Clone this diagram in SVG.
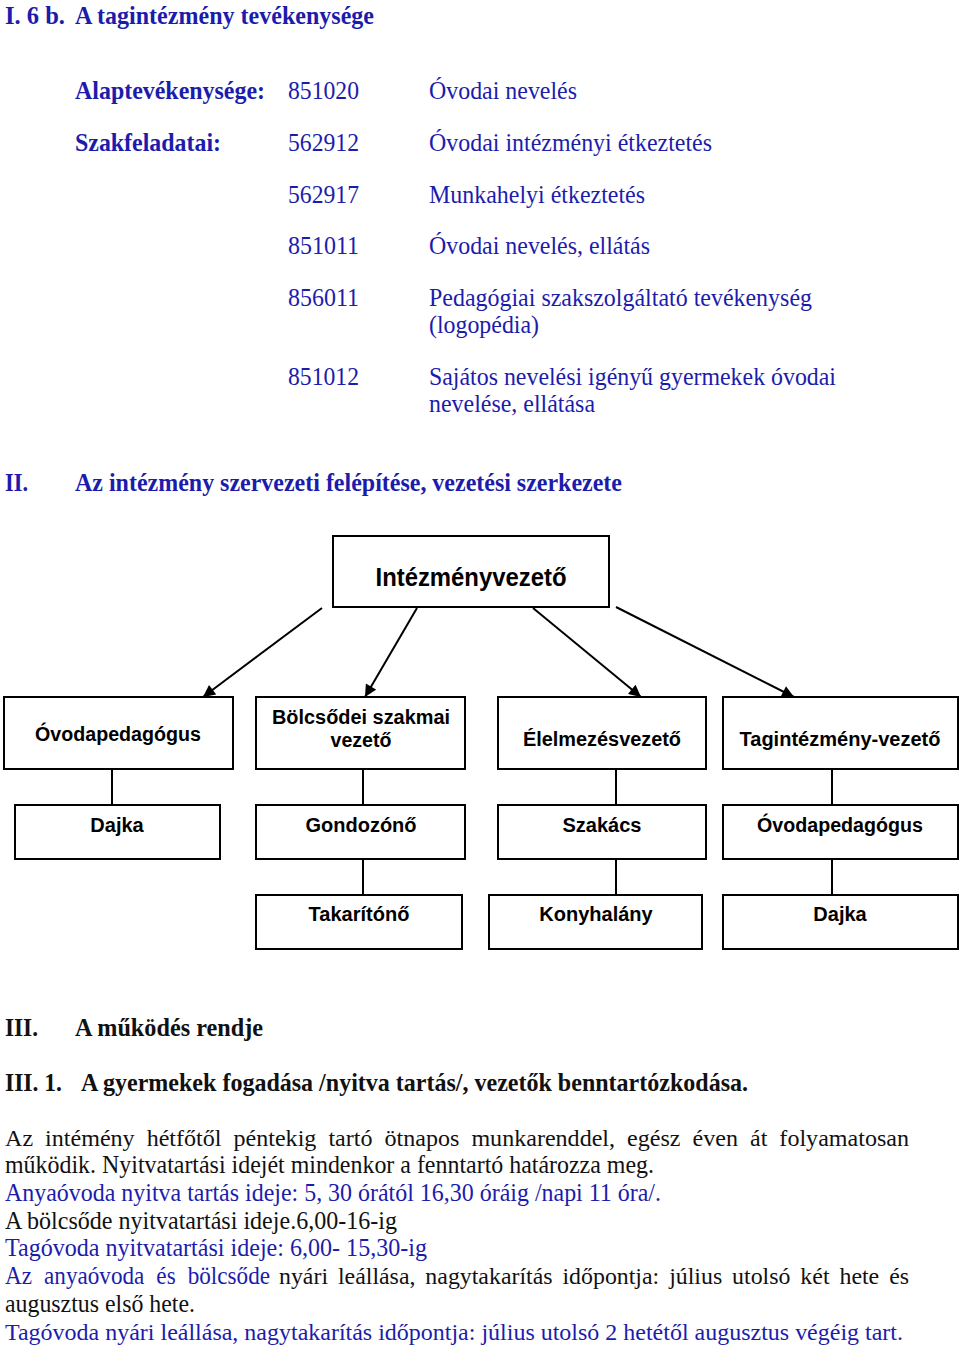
<svg xmlns="http://www.w3.org/2000/svg" width="960" height="1352" viewBox="0 0 960 1352">
<defs>
<style>
.s{font-family:"Liberation Serif","Times New Roman",serif;font-size:26px}
.sm{font-size:24px}
.b{font-weight:bold}
.blue{fill:#1c1cac}
.blk{fill:#111}
.box{fill:#fff;stroke:#000;stroke-width:2}
.n{font-family:"Liberation Sans",Arial,sans-serif;font-weight:bold;font-size:20px;fill:#000;text-anchor:middle}
.c{stroke:#000;stroke-width:2;fill:none}
</style>
<marker id="ah2" viewBox="0 0 10 10" refX="10" refY="5" markerWidth="14" markerHeight="12" markerUnits="userSpaceOnUse" orient="auto">
<path d="M0,0 L10,5 L0,10 z" fill="#000"/>
</marker>
</defs>
<rect width="960" height="1352" fill="#fff"/>

<!-- Section I -->
<g class="s b blue">
<text x="5" y="24" textLength="60" lengthAdjust="spacingAndGlyphs">I. 6 b.</text>
<text x="75" y="24" textLength="299" lengthAdjust="spacingAndGlyphs">A tagintézmény tevékenysége</text>
<text x="75" y="99" textLength="190" lengthAdjust="spacingAndGlyphs">Alaptevékenysége:</text>
<text x="75" y="151" textLength="146" lengthAdjust="spacingAndGlyphs">Szakfeladatai:</text>
</g>
<g class="s blue">
<text x="288" y="99" textLength="71" lengthAdjust="spacingAndGlyphs">851020</text>
<text x="288" y="151" textLength="71" lengthAdjust="spacingAndGlyphs">562912</text>
<text x="288" y="203" textLength="71" lengthAdjust="spacingAndGlyphs">562917</text>
<text x="288" y="254" textLength="71" lengthAdjust="spacingAndGlyphs">851011</text>
<text x="288" y="306" textLength="71" lengthAdjust="spacingAndGlyphs">856011</text>
<text x="288" y="385" textLength="71" lengthAdjust="spacingAndGlyphs">851012</text>
<text x="429" y="99" textLength="148" lengthAdjust="spacingAndGlyphs">Óvodai nevelés</text>
<text x="429" y="151" textLength="283" lengthAdjust="spacingAndGlyphs">Óvodai intézményi étkeztetés</text>
<text x="429" y="203" textLength="216" lengthAdjust="spacingAndGlyphs">Munkahelyi étkeztetés</text>
<text x="429" y="254" textLength="221" lengthAdjust="spacingAndGlyphs">Óvodai nevelés, ellátás</text>
<text x="429" y="306" textLength="383" lengthAdjust="spacingAndGlyphs">Pedagógiai szakszolgáltató tevékenység</text>
<text x="429" y="333" textLength="110" lengthAdjust="spacingAndGlyphs">(logopédia)</text>
<text x="429" y="385" textLength="407" lengthAdjust="spacingAndGlyphs">Sajátos nevelési igényű gyermekek óvodai</text>
<text x="429" y="412" textLength="166" lengthAdjust="spacingAndGlyphs">nevelése, ellátása</text>
</g>

<!-- Section II -->
<g class="s b blue">
<text x="5" y="491" textLength="23" lengthAdjust="spacingAndGlyphs">II.</text>
<text x="75" y="491" textLength="547" lengthAdjust="spacingAndGlyphs">Az intézmény szervezeti felépítése, vezetési szerkezete</text>
</g>

<!-- Connectors -->
<g id="connectors">
<line class="c" x1="322" y1="608" x2="203" y2="697" marker-end="url(#ah2)"/>
<line class="c" x1="417" y1="608" x2="365" y2="697" marker-end="url(#ah2)"/>
<line class="c" x1="533" y1="608" x2="641" y2="697" marker-end="url(#ah2)"/>
<line class="c" x1="616" y1="607" x2="794" y2="697" marker-end="url(#ah2)"/>
<line class="c" x1="112" y1="769" x2="112" y2="805"/>
<line class="c" x1="363" y1="769" x2="363" y2="805"/>
<line class="c" x1="616" y1="769" x2="616" y2="805"/>
<line class="c" x1="832" y1="769" x2="832" y2="805"/>
<line class="c" x1="363" y1="859" x2="363" y2="895"/>
<line class="c" x1="616" y1="859" x2="616" y2="895"/>
<line class="c" x1="832" y1="859" x2="832" y2="895"/>
</g>

<!-- Nodes -->
<g id="n-intezmenyvezeto"><rect class="box" x="333" y="536" width="276" height="71"/><text class="n" x="471" y="586" style="font-size:25px" textLength="191" lengthAdjust="spacingAndGlyphs">Intézményvezető</text></g>
<g id="n-ovodapedagogus1"><rect class="box" x="4" y="697" width="229" height="72"/><text class="n" x="118" y="741" textLength="166" lengthAdjust="spacingAndGlyphs">Óvodapedagógus</text></g>
<g id="n-bolcsodei"><rect class="box" x="256" y="697" width="209" height="72"/><text class="n" x="361" y="724" textLength="178" lengthAdjust="spacingAndGlyphs">Bölcsődei szakmai</text><text class="n" x="361" y="747" textLength="61" lengthAdjust="spacingAndGlyphs">vezető</text></g>
<g id="n-elelmezes"><rect class="box" x="498" y="697" width="208" height="72"/><text class="n" x="602" y="746" textLength="158" lengthAdjust="spacingAndGlyphs">Élelmezésvezető</text></g>
<g id="n-tagintezmeny"><rect class="box" x="723" y="697" width="235" height="72"/><text class="n" x="840" y="746" textLength="201" lengthAdjust="spacingAndGlyphs">Tagintézmény-vezető</text></g>
<g id="n-dajka1"><rect class="box" x="15" y="805" width="205" height="54"/><text class="n" x="117" y="832">Dajka</text></g>
<g id="n-gondozono"><rect class="box" x="256" y="805" width="209" height="54"/><text class="n" x="361" y="832">Gondozónő</text></g>
<g id="n-szakacs"><rect class="box" x="498" y="805" width="208" height="54"/><text class="n" x="602" y="832">Szakács</text></g>
<g id="n-ovodapedagogus2"><rect class="box" x="723" y="805" width="235" height="54"/><text class="n" x="840" y="832" textLength="166" lengthAdjust="spacingAndGlyphs">Óvodapedagógus</text></g>
<g id="n-takarito"><rect class="box" x="256" y="895" width="206" height="54"/><text class="n" x="359" y="921">Takarítónő</text></g>
<g id="n-konyhalany"><rect class="box" x="489" y="895" width="213" height="54"/><text class="n" x="596" y="921">Konyhalány</text></g>
<g id="n-dajka2"><rect class="box" x="723" y="895" width="235" height="54"/><text class="n" x="840" y="921">Dajka</text></g>

<!-- Section III -->
<g class="s b blk">
<text x="5" y="1036" textLength="33" lengthAdjust="spacingAndGlyphs">III.</text>
<text x="75" y="1036" textLength="188" lengthAdjust="spacingAndGlyphs">A működés rendje</text>
<text x="5" y="1091" textLength="57" lengthAdjust="spacingAndGlyphs">III. 1.</text>
<text x="81" y="1091" textLength="667" lengthAdjust="spacingAndGlyphs">A gyermekek fogadása /nyitva tartás/, vezetők benntartózkodása.</text>
</g>
<g class="s">
<text class="blk sm" x="5" y="1146" textLength="904" lengthAdjust="spacingAndGlyphs" word-spacing="6">Az intémény hétfőtől péntekig tartó ötnapos munkarenddel, egész éven át folyamatosan</text>
<text class="blk" x="5" y="1173" textLength="649" lengthAdjust="spacingAndGlyphs">működik. Nyitvatartási idejét mindenkor a fenntartó határozza meg.</text>
<text class="blue" x="5" y="1201" textLength="656" lengthAdjust="spacingAndGlyphs">Anyaóvoda nyitva tartás ideje: 5, 30 órától 16,30 óráig /napi 11 óra/.</text>
<text class="blk" x="5" y="1229" textLength="392" lengthAdjust="spacingAndGlyphs">A bölcsőde nyitvatartási ideje.6,00-16-ig</text>
<text class="blue" x="5" y="1256" textLength="422" lengthAdjust="spacingAndGlyphs">Tagóvoda nyitvatartási ideje: 6,00- 15,30-ig</text>
<text class="blue" x="5" y="1284" textLength="265" lengthAdjust="spacingAndGlyphs" word-spacing="7">Az anyaóvoda és bölcsőde</text>
<text class="blk sm" x="279" y="1284" textLength="630" lengthAdjust="spacingAndGlyphs" word-spacing="4">nyári leállása, nagytakarítás időpontja: július utolsó két hete és</text>
<text class="blk" x="5" y="1312" textLength="190" lengthAdjust="spacingAndGlyphs">augusztus első hete.</text>
<text class="blue sm" x="5" y="1340" textLength="898" lengthAdjust="spacingAndGlyphs">Tagóvoda nyári leállása, nagytakarítás időpontja: július utolsó 2 hetétől augusztus végéig tart.</text>
</g>
</svg>
